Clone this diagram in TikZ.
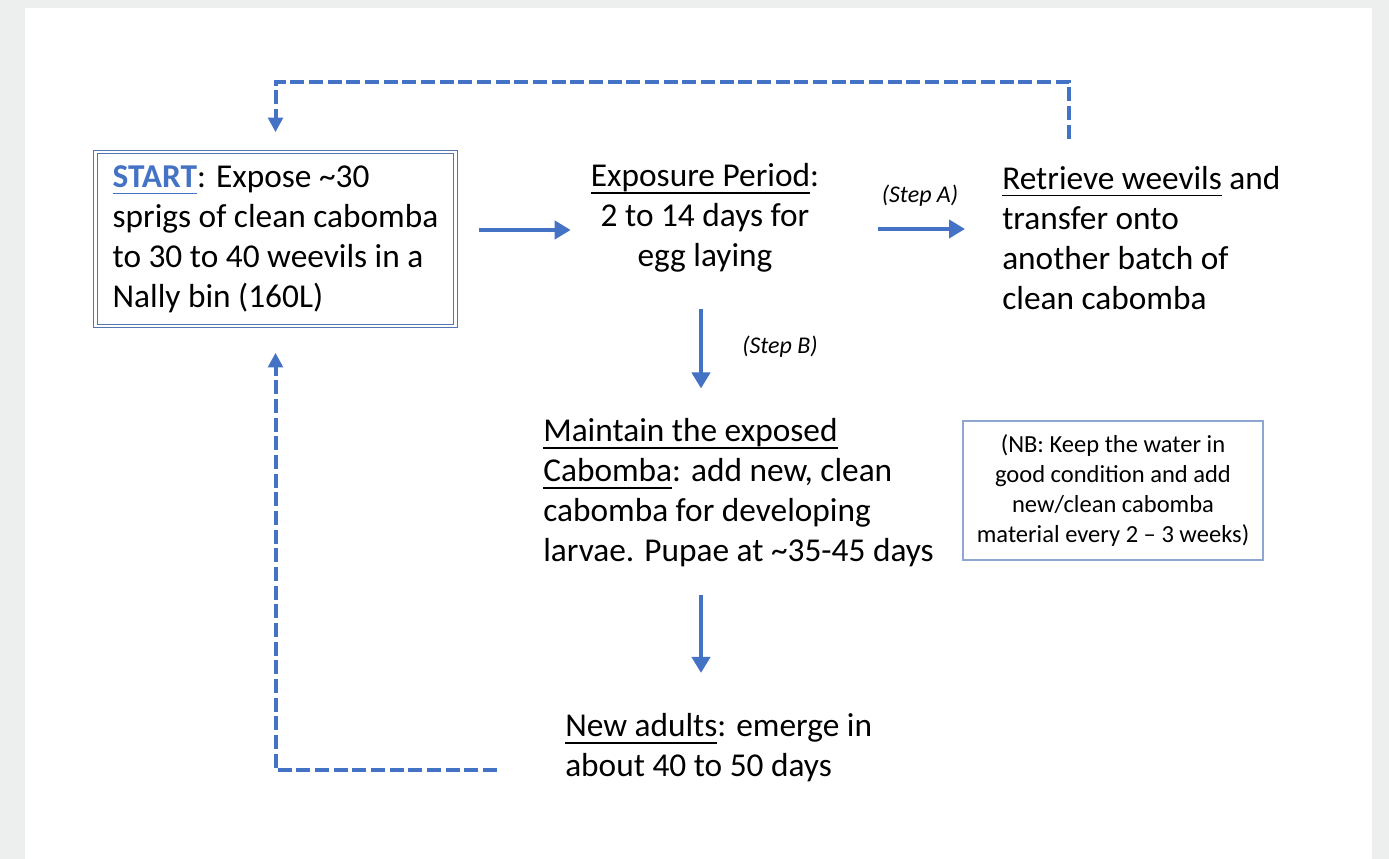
\documentclass[tikz,border=0pt]{standalone}
\usepackage{fontspec}
\setmainfont{Carlito}
\usetikzlibrary{arrows.meta}
\definecolor{flowblue}{RGB}{68,114,196}
\definecolor{boxline}{RGB}{84,118,176}
\definecolor{nbline}{RGB}{143,165,210}
\definecolor{pagegray}{RGB}{237,239,239}
\newsavebox{\ulbox}
\newcommand{\ulword}[1]{\sbox{\ulbox}{#1}\rlap{\rule[-5.2pt]{\wd\ulbox}{1.2pt}}\usebox{\ulbox}}

\tikzset{
  bigtext/.style={font=\fontsize{25}{30}\selectfont, inner sep=0pt},
  flow/.style={draw=flowblue, line width=3pt, -{Triangle[width=13.5pt,length=12pt]}},
  loopflow/.style={draw=flowblue, line width=3pt, dash pattern=on 10.5pt off 3.5pt, -{Triangle[width=11pt,length=11pt]}},
  steplabel/.style={font=\fontsize{18}{21}\selectfont\itshape, inner sep=0pt},
}

\begin{document}
\begin{tikzpicture}[x=0.75pt,y=0.75pt,yscale=-1,xscale=1]
%page
\fill[pagegray] (0,0) rectangle (1389,859);
\fill[white] (25,8) rectangle (1372,859);

% Start box
\node[bigtext, draw=boxline, double=white, double distance=1.6pt, line width=0.9pt,
  minimum width=270pt, minimum height=130.8pt, align=left] (start) at (275.5,239)
  {\textcolor{flowblue}{\ulword{\textbf{START}}}: Expose \textasciitilde30\\
   sprigs of clean cabomba\\
   to 30 to 40 weevils in a\\
   Nally bin (160L)};
% Text Node
\node[bigtext, align=center] (expo) at (705,218)
  {\ulword{Exposure Period}:\\ 2 to 14 days for\\ egg laying};
% Text Node
\node[bigtext, anchor=west, align=left] (retr) at (1002,238)
  {\ulword{Retrieve weevils} and\\ transfer onto\\ another batch of\\ clean cabomba};
% Text Node
\node[bigtext, anchor=west, align=left] (maint) at (543,493)
  {\ulword{Maintain the exposed}\\ \ulword{Cabomba}: add new, clean\\ cabomba for developing\\ larvae. Pupae at \textasciitilde35-45 days};
% Text Node
\node[bigtext, anchor=west, align=left] (adults) at (565,748)
  {\ulword{New adults}: emerge in\\ about 40 to 50 days};
% Note box
\node[draw=nbline, line width=0.8pt, minimum width=225pt, minimum height=104.25pt, inner sep=0pt,
  font=\fontsize{18.4}{22.5}\selectfont, align=center] (nb) at (1113,490.5)
  {(NB: Keep the water in\\ good condition and add\\ new/clean cabomba\\ material every 2 -- 3 weeks)};
% Step labels
\node[steplabel] (stepa) at (920,196) {(Step A)};
\node[steplabel] (stepb) at (780,347) {(Step B)};

%Straight Lines
\draw[flow, shorten <=17pt, shorten >=15pt] ([yshift=-6.75pt]start.east) -- ([yshift=-6.75pt]start.east -| expo.west);
\draw[flow, shorten <=44.25pt, shorten >=27.75pt] ([yshift=8.25pt]expo.east) -- ([yshift=8.25pt]expo.east -| retr.west);
\draw[flow, shorten <=27pt, shorten >=22.5pt] ([xshift=-3pt]expo.south) -- ([xshift=-3pt]expo.south |- maint.north);
\draw[flow, shorten <=20.6pt, shorten >=30.4pt] ([xshift=-3pt]expo.south |- maint.south) -- ([xshift=-3pt]expo.south |- adults.north);

%Dashed loops
\coordinate (topright) at (1069,82);
\coordinate (botleft) at (275.5,770);
\draw[loopflow, shorten <=20.5pt, shorten >=14.25pt] (topright |- retr.north) -- (topright) -- (topright -| start.north) -- (start.north);
\draw[loopflow, shorten <=51pt, shorten >=19.5pt] (botleft -| adults.west) -- (botleft) -- (start.south);

\end{tikzpicture}
\end{document}
